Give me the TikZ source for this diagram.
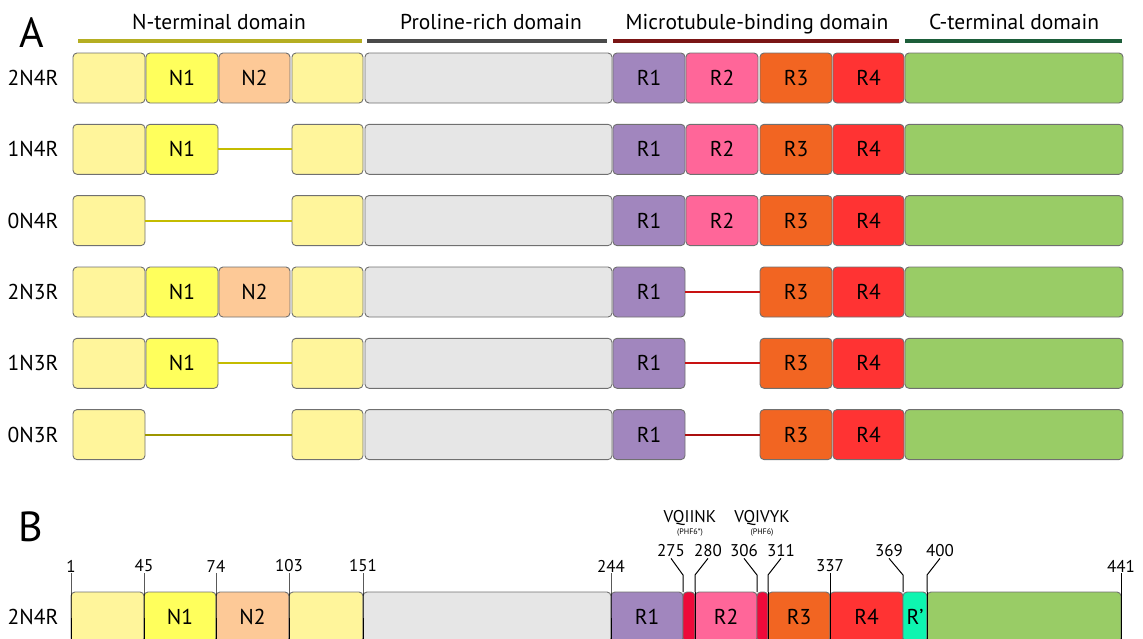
\documentclass[tikz,border=0pt]{standalone}
\usepackage{fontspec}
\setmainfont{PT Sans}
\usetikzlibrary{calc}

% fill colours of the protein regions
\definecolor{ntpale}{HTML}{FFF59B}
\definecolor{nOne}{HTML}{FFFF5C}
\definecolor{nTwo}{HTML}{FDC997}
\definecolor{proline}{HTML}{E6E6E6}
\definecolor{rOne}{HTML}{A186BE}
\definecolor{rTwo}{HTML}{FF6699}
\definecolor{rThree}{HTML}{F26522}
\definecolor{rFour}{HTML}{FF3333}
\definecolor{cterm}{HTML}{99CC66}
\definecolor{phf}{HTML}{EE0A3A}
\definecolor{rprime}{HTML}{0EF5B0}
% domain bars and spacer lines
\definecolor{barN}{HTML}{B5AE22}
\definecolor{barP}{HTML}{4A4A4A}
\definecolor{barM}{HTML}{7A1515}
\definecolor{barC}{HTML}{1D5E3A}
\definecolor{gapN}{HTML}{C4BC00}
\definecolor{gapR}{HTML}{C81212}
\definecolor{edge}{HTML}{707070}

\tikzset{
  dbox/.style={draw=edge, line width=0.9pt, rounded corners=4pt, inner sep=0pt,
    outer sep=0pt, minimum height=50pt, font=\fontsize{21.5}{24}\selectfont},
  rowlabel/.style={font=\fontsize{21.5}{24}\selectfont, inner sep=0pt},
  domlabel/.style={font=\fontsize{21.5}{25}\selectfont, anchor=base, inner sep=0pt},
  dombar/.style={line width=3.5pt},
  gapline/.style={line width=2.2pt},
  panel/.style={font=\fontsize{42}{46}\selectfont, inner sep=0pt},
  num/.style={font=\fontsize{17}{19}\selectfont, inner sep=1pt},
  motif/.style={font=\fontsize{17}{18}\selectfont, inner sep=0pt},
  motifsub/.style={font=\fontsize{8}{9}\selectfont, inner sep=0pt},
  tick/.style={line width=1pt, black},
}

% \seg{name}{left x}{right x}{centre y}{fill}{text}
\newcommand\seg[6]{%
  \node[dbox, fill=#5, minimum width={(#3-#2)*1pt}] (#1) at ({(#2+#3)/2},#4) {#6};}

\begin{document}
\begin{tikzpicture}[x=1pt, y=-1pt]
\useasboundingbox (0,0) rectangle (1143,638);
\clip (0,0) rectangle (1143,638);

% ---------------- panel A ----------------
\node[panel] (A) at (32,33) {A};

\coordinate (nL) at (78,41);   \coordinate (nR) at (362,41);
\coordinate (pL) at (367,41);  \coordinate (pR) at (607,41);
\coordinate (mL) at (613,41);  \coordinate (mR) at (899,41);
\coordinate (cL) at (905,41);  \coordinate (cR) at (1122,41);
\draw[dombar, barN] (nL) -- (nR);
\draw[dombar, barP] (pL) -- (pR);
\draw[dombar, barM] (mL) -- (mR);
\draw[dombar, barC] (cL) -- (cR);
\node[domlabel] (dN) at (219,29) {N-terminal domain};
\node[domlabel] (dP) at (491,29) {Proline-rich domain};
\node[domlabel] (dM) at (757,29) {Microtubule-binding domain};
\node[domlabel] (dC) at (1014,29) {C-terminal domain};

% row 1: 2N4R
\node[rowlabel] (l1) at (33,78) {2N4R};
\seg{a1}{73}{145}{78}{ntpale}{}
\seg{a1n1}{146}{218}{78}{nOne}{N1}
\seg{a1n2}{219}{290}{78}{nTwo}{N2}
\seg{a1b}{292}{363}{78}{ntpale}{}
\seg{a1p}{365}{612}{78}{proline}{}
\seg{a1r1}{613}{685}{78}{rOne}{R1}
\seg{a1r2}{686}{758}{78}{rTwo}{R2}
\seg{a1r3}{760}{832}{78}{rThree}{R3}
\seg{a1r4}{833}{904}{78}{rFour}{R4}
\seg{a1c}{905}{1123}{78}{cterm}{}

% row 2: 1N4R
\node[rowlabel] (l2) at (33,149.3) {1N4R};
\seg{a2}{73}{145}{149.3}{ntpale}{}
\seg{a2n1}{146}{218}{149.3}{nOne}{N1}
\seg{a2b}{292}{363}{149.3}{ntpale}{}
\seg{a2p}{365}{612}{149.3}{proline}{}
\seg{a2r1}{613}{685}{149.3}{rOne}{R1}
\seg{a2r2}{686}{758}{149.3}{rTwo}{R2}
\seg{a2r3}{760}{832}{149.3}{rThree}{R3}
\seg{a2r4}{833}{904}{149.3}{rFour}{R4}
\seg{a2c}{905}{1123}{149.3}{cterm}{}
\draw[gapline, gapN] (a2n1.east) -- (a2b.west);

% row 3: 0N4R
\node[rowlabel] (l3) at (33,220.6) {0N4R};
\seg{a3}{73}{145}{220.6}{ntpale}{}
\seg{a3b}{292}{363}{220.6}{ntpale}{}
\seg{a3p}{365}{612}{220.6}{proline}{}
\seg{a3r1}{613}{685}{220.6}{rOne}{R1}
\seg{a3r2}{686}{758}{220.6}{rTwo}{R2}
\seg{a3r3}{760}{832}{220.6}{rThree}{R3}
\seg{a3r4}{833}{904}{220.6}{rFour}{R4}
\seg{a3c}{905}{1123}{220.6}{cterm}{}
\draw[gapline, gapN] (a3.east) -- (a3b.west);

% row 4: 2N3R
\node[rowlabel] (l4) at (33,292) {2N3R};
\seg{a4}{73}{145}{292}{ntpale}{}
\seg{a4n1}{146}{218}{292}{nOne}{N1}
\seg{a4n2}{219}{290}{292}{nTwo}{N2}
\seg{a4b}{292}{363}{292}{ntpale}{}
\seg{a4p}{365}{612}{292}{proline}{}
\seg{a4r1}{613}{685}{292}{rOne}{R1}
\seg{a4r3}{760}{832}{292}{rThree}{R3}
\seg{a4r4}{833}{904}{292}{rFour}{R4}
\seg{a4c}{905}{1123}{292}{cterm}{}
\draw[gapline, gapR] (a4r1.east) -- (a4r3.west);

% row 5: 1N3R
\node[rowlabel] (l5) at (33,363.3) {1N3R};
\seg{a5}{73}{145}{363.3}{ntpale}{}
\seg{a5n1}{146}{218}{363.3}{nOne}{N1}
\seg{a5b}{292}{363}{363.3}{ntpale}{}
\seg{a5p}{365}{612}{363.3}{proline}{}
\seg{a5r1}{613}{685}{363.3}{rOne}{R1}
\seg{a5r3}{760}{832}{363.3}{rThree}{R3}
\seg{a5r4}{833}{904}{363.3}{rFour}{R4}
\seg{a5c}{905}{1123}{363.3}{cterm}{}
\draw[gapline, gapN] (a5n1.east) -- (a5b.west);
\draw[gapline, gapR] (a5r1.east) -- (a5r3.west);

% row 6: 0N3R
\node[rowlabel] (l6) at (33,434.6) {0N3R};
\seg{a6}{73}{145}{434.6}{ntpale}{}
\seg{a6b}{292}{363}{434.6}{ntpale}{}
\seg{a6p}{365}{612}{434.6}{proline}{}
\seg{a6r1}{613}{685}{434.6}{rOne}{R1}
\seg{a6r3}{760}{832}{434.6}{rThree}{R3}
\seg{a6r4}{833}{904}{434.6}{rFour}{R4}
\seg{a6c}{905}{1123}{434.6}{cterm}{}
\draw[gapline, gapN!80!black] (a6.east) -- (a6b.west);
\draw[gapline, gapR!85!black] (a6r1.east) -- (a6r3.west);

% ---------------- panel B ----------------
\node[panel] (B) at (31,527) {B};
\node[rowlabel] (lb) at (33,617) {2N4R};
\seg{b1}{71}{144}{617}{ntpale}{}
\seg{bn1}{144}{216}{617}{nOne}{N1}
\seg{bn2}{216}{289}{617}{nTwo}{N2}
\seg{bb}{289}{363}{617}{ntpale}{}
\seg{bp}{363}{611}{617}{proline}{}
\seg{br1}{611}{683}{617}{rOne}{R1}
\seg{bx1}{683}{695}{617}{phf}{}
\seg{br2}{695}{757}{617}{rTwo}{R2}
\seg{bx2}{757}{768}{617}{phf}{}
\seg{br3}{768}{830}{617}{rThree}{R3}
\seg{br4}{830}{903}{617}{rFour}{R4}
\seg{brp}{903}{927}{617}{rprime}{R’}
\seg{bc}{927}{1121}{617}{cterm}{}

% residue numbers with straight ticks
\coordinate (bot) at (0,645);
\foreach \n/\x in {1/71, 45/144, 74/216, 103/289, 151/363, 244/611, 337/830, 441/1121}{
  \node[num] (t\n) at (\x,566) {\n};
  \coordinate (f\n) at (\x,592);
  \draw[tick] (t\n.south) -- (f\n) -- (f\n |- bot);
}
% residue numbers with bent ticks
\foreach \n/\lx/\x/\through in {275/671/683/0, 280/708/695/1, 306/744/757/0,
                                 311/781/768/1, 369/889/903/0, 400/940/927/1}{
  \node[num] (t\n) at (\lx,551) {\n};
  \coordinate (f\n) at (\x,592);
  \draw[tick] (t\n.south) -- ([yshift=17pt]f\n) -- (f\n);
  \ifnum\through=1 \draw[tick] (f\n) -- (f\n |- bot); \fi
}

% aggregation motifs
\node[motif] (m1) at (690,518) {VQIINK};
\node[motifsub] (m1s) at (690,533) {(PHF6*)};
\node[motif] (m2) at (762,518) {VQIVYK};
\node[motifsub] (m2s) at (762,533) {(PHF6)};
\end{tikzpicture}
\end{document}
